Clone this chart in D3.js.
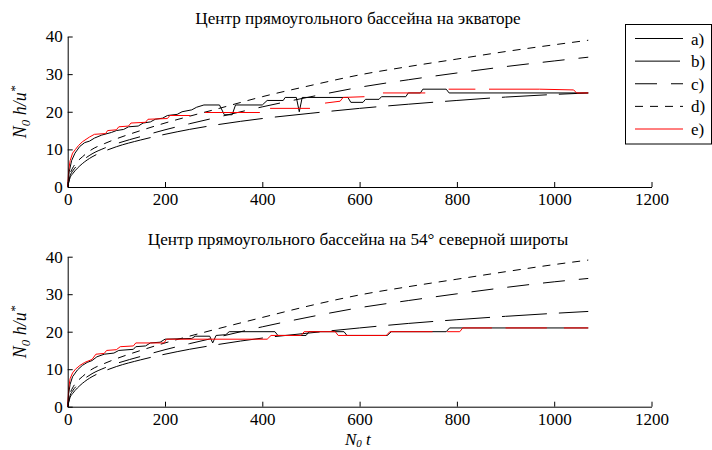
<!DOCTYPE html>
<html>
<head>
<meta charset="utf-8">
<script src="https://cdn.jsdelivr.net/npm/d3@7"></script>
<style>
body { margin: 0; background: #fff; }
svg { display: block; }
svg text { font-family: "Liberation Serif", "DejaVu Serif", serif; }
</style>
</head>
<body>
<div id="chart"></div>
<script>
// titles and ticks
const titleTop = "Центр прямоугольного бассейна на экваторе";
const titleBottom = "Центр прямоугольного бассейна на 54° северной широты";
const tickX = [0, 200, 400, 600, 800, 1000, 1200];
const tickY = [0, 10, 20, 30, 40];
const seriesNames = ["a)", "b)", "c)", "d)", "e)"];

// smooth curves b, c, d share these times
const smoothTimes = [0, 5, 10, 20, 30, 50, 75, 100, 150, 200, 250, 300, 400, 500, 600, 700, 800, 900, 1000, 1070];
const topB = [0, 2.5, 3.5, 5, 6.2, 8, 9.5, 10.7, 12.5, 14, 15.3, 16.4, 18.2, 19.6, 20.9, 22, 23, 23.9, 24.6, 25];
const topC = [0, 3, 4.2, 5.8, 7, 8.8, 10.3, 11.5, 13.4, 15.2, 16.8, 18.3, 21.3, 24, 26.5, 28.5, 30.3, 32, 33.5, 34.5];
const topD = [0, 3.5, 5, 6.8, 8, 10, 11.5, 12.8, 15, 17, 18.8, 20.5, 24, 27, 29.8, 32, 34, 36, 37.8, 39];
const bottomB = [0, 2.5, 3.5, 5, 6.2, 8, 9.5, 10.7, 12.5, 14, 15.3, 16.4, 18.3, 19.7, 21, 22.2, 23.2, 24.1, 24.9, 25.4];
const bottomC = [0, 3, 4.2, 5.8, 7, 8.8, 10.3, 11.5, 13.4, 15.2, 16.8, 18.3, 21.3, 24, 26.4, 28.3, 30.1, 31.8, 33.3, 34.2];
const bottomD = [0, 3.5, 5, 6.8, 8, 10, 11.5, 12.8, 15, 17, 18.8, 20.5, 23.8, 27, 29.8, 32, 34, 36, 37.9, 39.1];

// stepped model runs (a black, e red); null = break in the line
const topATimes = [0, 3, 8, 15, 25, 35, 45, 55, 70, 90, 100, 115, 125, 145, 155, 170, 180, 195, 205, 225, 235, 255, 265, 280, 312, 322, 338, 345, 400, 410, 443, 447, 470, 476, 482, 576, 582, 607, 612, 640, 645, 695, 700, 725, 730, 778, 784, 1070];
const topAValues = [0, 4, 7, 9, 10.8, 11.8, 12.2, 13, 13.8, 14.5, 15, 15.3, 16, 16.2, 17, 17.3, 18, 18.3, 19, 19.3, 20, 20.5, 21.2, 21.8, 21.8, 19.2, 19.2, 21.8, 21.8, 23, 23, 23.8, 23.8, 20, 23.8, 23.8, 22.5, 22.5, 23.3, 23.3, 24, 24, 25, 25, 26, 26, 25, 25];
const topETimes = [0, 2, 5, 10, 16, 22, 30, 45, 55, 78, 82, 100, 105, 125, 130, 160, 165, 205, 210, 252, 267, 282, 395, 405, 416, 498, 513, 529, 560, 566, 610, 629, 648, 735, 759, 783, 838, 852, 866, 970, 1040, 1046, 1070];
const topEValues = [0, 4.5, 7, 9, 10, 11, 12, 13.3, 14, 14.2, 15, 15.2, 16, 16.2, 17, 17.2, 18, 18.2, 19, 19, null, 19.8, 19.8, null, 20.9, 20.9, null, 22.3, 22.8, 23.8, 24, null, 25, 25, null, 26, 26, null, 26, 26, 25.8, 25, 25];
const bottomATimes = [0, 2, 5, 10, 20, 30, 40, 50, 60, 75, 95, 105, 135, 140, 160, 170, 190, 200, 255, 262, 292, 298, 305, 325, 332, 426, 432, 490, 496, 568, 574, 657, 665, 778, 785, 1070];
const bottomAValues = [0, 3.5, 6, 8, 9.8, 11, 11.8, 12.3, 13.3, 14, 14.3, 15, 15.3, 16, 16.2, 17, 17.2, 18, 18.2, 18.8, 18.8, 17, 19, 19.2, 20, 20, 19, 19, 20, 20, 19, 19, 20, 20, 21, 21];
const bottomETimes = [0, 2, 5, 10, 16, 25, 35, 50, 58, 75, 80, 100, 108, 135, 140, 198, 203, 410, 418, 480, 486, 550, 556, 655, 662, 750, 765, 780, 806, 812, 872, 886, 900, 985, 1005, 1020, 1070];
const bottomEValues = [0, 5, 7.5, 9, 10, 11, 11.8, 12.6, 14, 14.2, 15, 15.2, 16, 16.2, 17, 17, 18, 18, 19, 19, 20, 20, 19, 19, 20, 20, null, 20, 20, 21, 21, null, 21, 21, null, 21, 21];

const seriesColors = ["#000", "#000", "#000", "#000", "#ff0000"];
const seriesDashes = [null, "45,12", "22,14", "8,7", null];
const serif = "Liberation Serif, DejaVu Serif, serif";

const width = 712, height = 450;
const svg = d3.select("#chart").append("svg")
	.attr("width", width)
	.attr("height", height)
	.attr("font-family", serif);

const x = d3.scaleLinear().domain([0, 1200]).range([67.7, 651.5]);

function zip(times, values) {
	return times.map(function(t, i) { return {t: t, v: values[i]}; });
}

const panels = [
	{title: titleTop, titleY: 24, y0: 187, y1: 36.5, yLabel: 112,
	 series: [zip(topATimes, topAValues), zip(smoothTimes, topB), zip(smoothTimes, topC), zip(smoothTimes, topD), zip(topETimes, topEValues)]},
	{title: titleBottom, titleY: 245, y0: 406.7, y1: 256.7, yLabel: 332,
	 series: [zip(bottomATimes, bottomAValues), zip(smoothTimes, bottomB), zip(smoothTimes, bottomC), zip(smoothTimes, bottomD), zip(bottomETimes, bottomEValues)]}
];

panels.forEach(function(p) {
	const y = d3.scaleLinear().domain([0, 40]).range([p.y0, p.y1]);
	const g = svg.append("g");

	g.append("text")
		.attr("x", 358).attr("y", p.titleY)
		.attr("text-anchor", "middle")
		.attr("font-size", 17.2)
		.text(p.title);

	p.series.forEach(function(data, i) {
		// stepped runs stay linear, smooth ones get a monotone curve
		const line = d3.line()
			.defined(function(d) { return d.v != null; })
			.x(function(d) { return x(d.t); })
			.y(function(d) { return y(d.v); })
			.curve(i == 0 || i == 4 ? d3.curveLinear : d3.curveMonotoneX);
		g.append("path")
			.datum(data)
			.attr("fill", "none")
			.attr("stroke", seriesColors[i])
			.attr("stroke-width", 1)
			.attr("stroke-dasharray", seriesDashes[i])
			.attr("d", line);
	});

	const xAxis = g.append("g")
		.attr("transform", "translate(0," + p.y0 + ")")
		.call(d3.axisBottom(x).tickValues(tickX).tickFormat(d3.format("d"))
			.tickSize(-5).tickSizeOuter(0).tickPadding(6));
	const yAxis = g.append("g")
		.attr("transform", "translate(" + x(0) + ",0)")
		.call(d3.axisLeft(y).tickValues(tickY).tickFormat(d3.format("d"))
			.tickSize(-5).tickSizeOuter(0).tickPadding(5));

	[xAxis, yAxis].forEach(function(a) {
		a.attr("font-family", serif).attr("font-size", 17);
		a.selectAll("text").attr("fill", "#000");
		a.selectAll("path, line").attr("stroke", "#000");
	});

	const yl = g.append("text")
		.attr("transform", "translate(26," + p.yLabel + ") rotate(-90)")
		.attr("text-anchor", "middle")
		.attr("font-style", "italic")
		.attr("font-size", 18);
	yl.append("tspan").text("N");
	yl.append("tspan").attr("font-size", 13).attr("dy", 4).text("0");
	yl.append("tspan").attr("dy", -4).text(" h/u");
	yl.append("tspan").attr("font-size", 13).attr("dy", -7).text("*");
});

// x label under the lower panel
const xl = svg.append("text")
	.attr("x", 345).attr("y", 445)
	.attr("font-style", "italic")
	.attr("font-size", 17);
xl.append("tspan").text("N");
xl.append("tspan").attr("font-size", 11).attr("dy", 2).text("0");
xl.append("tspan").attr("dy", -2).text(" t");

// legend box, top right
const legend = svg.append("g");
legend.append("rect")
	.attr("x", 625.5).attr("y", 24.5)
	.attr("width", 86).attr("height", 119.5)
	.attr("fill", "#fff").attr("stroke", "#000");

const legendY = d3.scalePoint().domain(seriesNames).range([38.5, 129]);
seriesNames.forEach(function(name, i) {
	legend.append("line")
		.attr("x1", 635).attr("x2", 683)
		.attr("y1", legendY(name)).attr("y2", legendY(name))
		.attr("stroke", seriesColors[i])
		.attr("stroke-dasharray", seriesDashes[i]);
	legend.append("text")
		.attr("x", 691).attr("y", legendY(name) + 6)
		.attr("font-size", 17)
		.text(name);
});
</script>
</body>
</html>
